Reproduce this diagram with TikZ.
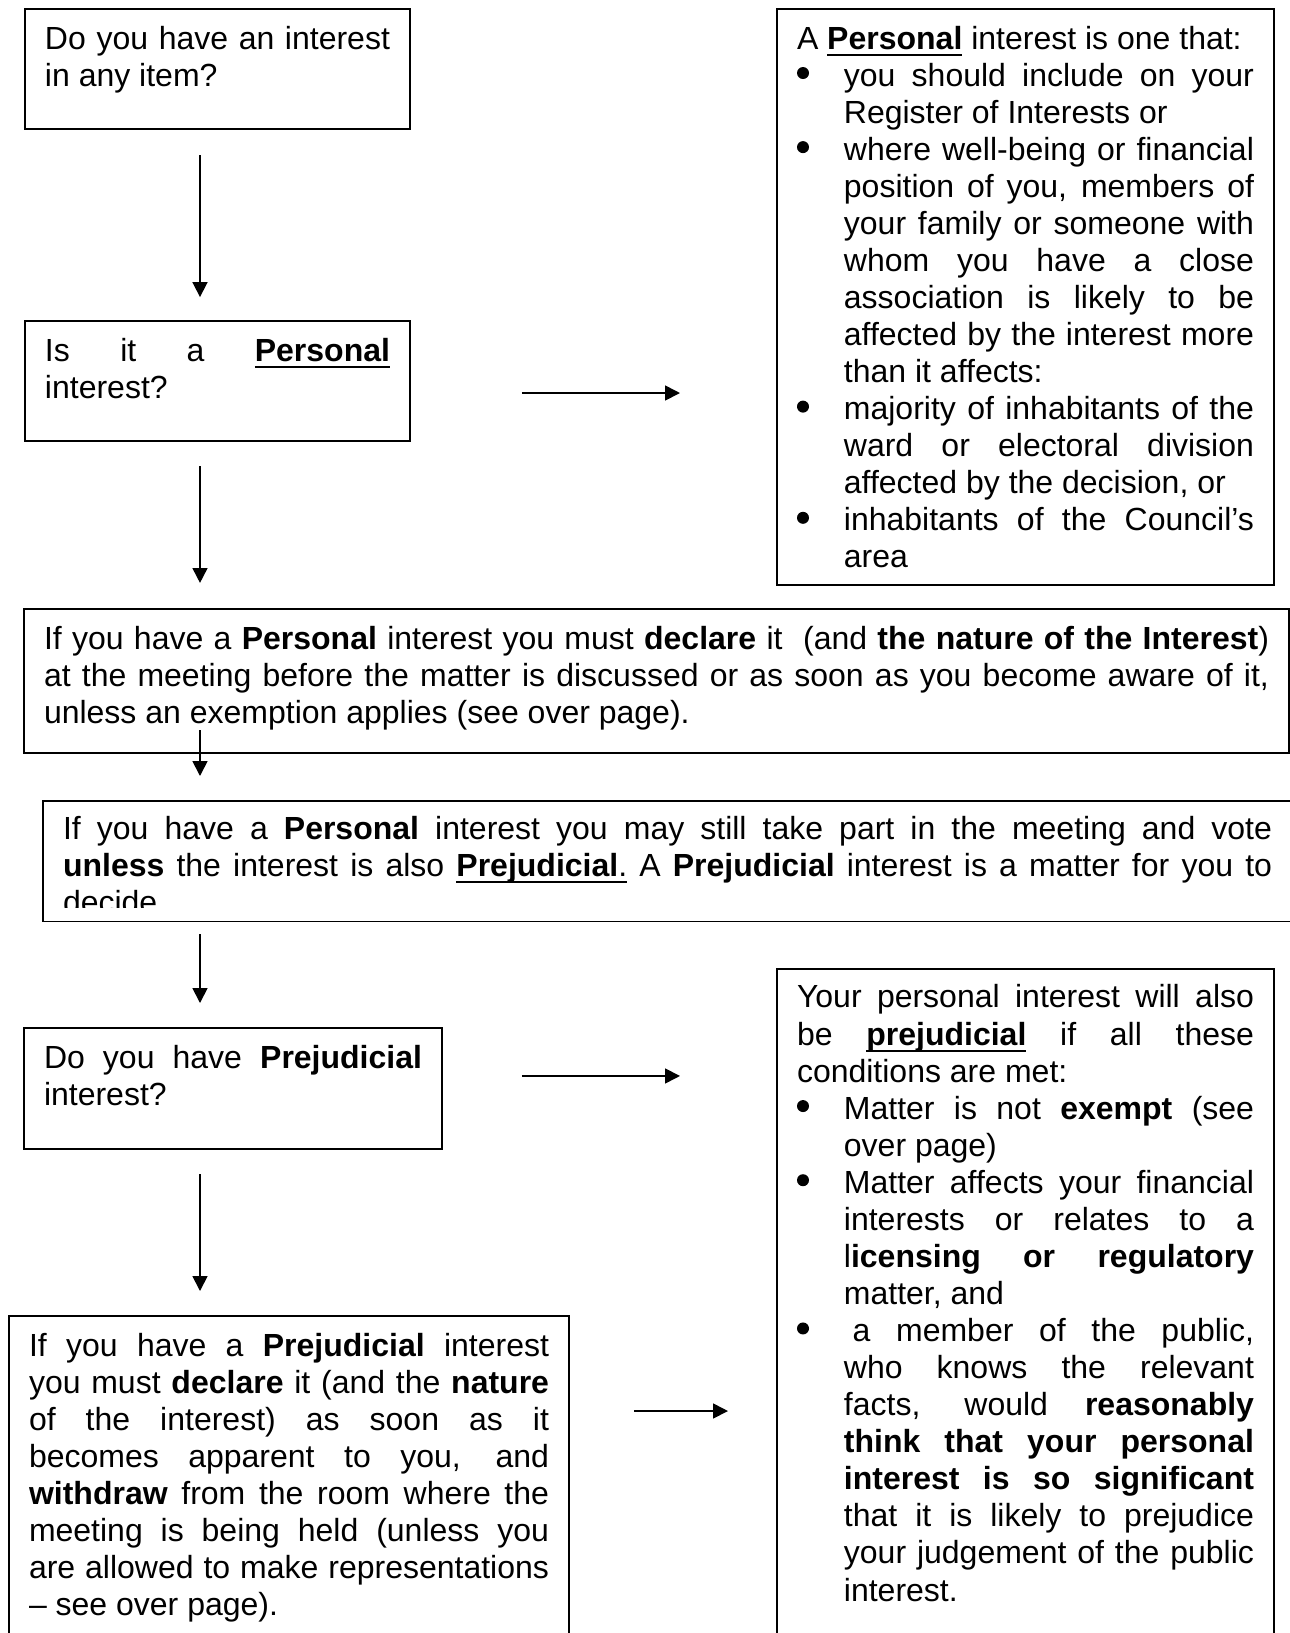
\documentclass[tikz,border=0pt]{standalone}
\usepackage{fontspec}
\setmainfont{Liberation Sans}
\usepackage{enumitem}
\usetikzlibrary{arrows.meta}

\newcommand{\boxfont}{\fontsize{12pt}{13.9pt}\selectfont\hyphenpenalty=10000\exhyphenpenalty=10000\tolerance=10000}
\newcommand{\underlined}[1]{\setbox0=\hbox{#1}\rlap{\rule[-2.55pt]{\wd0}{0.8pt}}\box0\relax}
\newcommand{\dotmark}{\tikz[baseline=0pt]\fill (3pt,4.9pt) circle (2.25pt);}
\setlist[itemize]{label=\dotmark, leftmargin=17.6pt, labelsep=0pt, labelwidth=17.6pt, align=left, topsep=0pt, partopsep=0pt, itemsep=0pt, parsep=0pt}

\begin{document}
\begin{tikzpicture}[x=0.375pt, y=-0.375pt,
    box/.style={draw, line width=0.75pt, anchor=north west, align=justify, font=\boxfont,
                inner xsep=7.5pt, inner ysep=0pt, text height=15pt},
    arrow/.style={-{Triangle[length=5.6pt, width=5.6pt]}, line width=0.65pt}]
            \path[use as bounding box] (0, 0) rectangle (1290, 1633);
            \clip (0, 0) rectangle (1290, 1633);
            \coordinate (spine) at (200, 0);
            
            % left column of questions
            \node[box, text width=129.375pt, text depth=30pt] (q_interest) at (24, 8)
                {Do you have an interest\linebreak in any item?};
            \node[box, text width=129.375pt, text depth=30pt] (q_personal) at (24, 320)
                {Is it a \underlined{\textbf{Personal}}\linebreak interest?};
            
            \node[box, text width=171.375pt, text depth=201pt] (def_personal) at (776, 8)
                {A \underlined{\textbf{Personal}} interest is one that:
                \begin{itemize}
                    \item you should include on your\linebreak Register of Interests or
                    \item where well-being or financial\linebreak position of you, members of\linebreak your family or someone with\linebreak whom you have a close\linebreak association is likely to be\linebreak affected by the interest more\linebreak than it affects:
                    \item majority of inhabitants of the\linebreak ward or electoral division\linebreak affected by the decision, or
                    \item inhabitants of the Council’s\linebreak area
                \end{itemize}};
            
            % wide boxes
            \node[box, text width=459.375pt, text depth=39pt] (declare_personal) at (23, 608)
                {If you have a \textbf{Personal} interest you must \textbf{declare} it\ \ (and \textbf{the nature of the Interest})\linebreak at the meeting before the matter is discussed or as soon as you become aware of it,\linebreak unless an exemption applies (see over page).};
            \node[box, text width=453.375pt, text height=14.25pt, text depth=30.75pt] (vote_personal) at (42, 800)
                {If you have a \textbf{Personal} interest you may still take part in the meeting and vote\linebreak \textbf{unless} the interest is also \underlined{\textbf{Prejudicial}.} A \textbf{Prejudicial} interest is a matter for you to\linebreak decide};
            \fill[white] ([xshift=0.7pt, yshift=0.5pt]vote_personal.south west) rectangle ([yshift=5.2pt]vote_personal.south east);
            
            \node[box, text width=141.75pt, text depth=30.375pt] (q_prejudicial) at (23, 1027)
                {Do you have \textbf{Prejudicial}\linebreak interest?};
            
            \node[box, text width=171.375pt, text height=14.6pt, text depth=247.9pt] (def_prejudicial) at (776, 968)
                {Your personal interest will also\linebreak be \underlined{\textbf{prejudicial}} if all these\linebreak conditions are met:
                \begin{itemize}
                    \item Matter is not \textbf{exempt} (see\linebreak over page)
                    \item Matter affects your financial\linebreak interests or relates to a\linebreak l\textbf{icensing or regulatory}\linebreak matter, and
                    \item \hspace*{3.3pt}a member of the public,\linebreak who knows the relevant\linebreak facts, would \textbf{reasonably}\linebreak \textbf{think that your personal}\linebreak \textbf{interest is so significant}\linebreak that it is likely to prejudice\linebreak your judgement of the public\linebreak interest.
                \end{itemize}};
            
            \node[box, text width=195pt, text depth=112.5pt] (declare_prejudicial) at (8, 1315)
                {If you have a \textbf{Prejudicial} interest\linebreak you must \textbf{declare} it (and the \textbf{nature}\linebreak of the interest) as soon as it\linebreak becomes apparent to you, and\linebreak \textbf{withdraw} from the room where the\linebreak meeting is being held (unless you\linebreak are allowed to make representations\linebreak – see over page).};
            
            % arrows down the left side
            \draw[arrow, shorten <=9.4pt, shorten >=8.6pt] (q_interest.south -| spine) -- (q_personal.north -| spine);
            \draw[arrow, shorten <=9pt, shorten >=9.4pt] (q_personal.south -| spine) -- (declare_personal.north -| spine);
            \draw[arrow, shorten <=-9pt, shorten >=9pt] (declare_personal.south -| spine) -- (vote_personal.north -| spine);
            \draw[arrow, shorten <=4.5pt, shorten >=9pt] (vote_personal.south -| spine) -- (q_prejudicial.north -| spine);
            \draw[arrow, shorten <=9pt, shorten >=9pt] (q_prejudicial.south -| spine) -- (declare_prejudicial.north -| spine);
            
            % arrows across to the definitions
            \draw[arrow, shorten <=41.6pt, shorten >=36pt] ([yshift=-4.5pt]q_personal.east) -- ([yshift=-4.5pt]q_personal.east -| def_personal.west);
            \draw[arrow, shorten <=29.6pt, shorten >=36pt] ([yshift=4.7pt]q_prejudicial.east) -- ([yshift=4.7pt]q_prejudicial.east -| def_prejudicial.west);
            \draw[arrow, shorten <=24pt, shorten >=18pt] ([yshift=-36pt]declare_prejudicial.north east) -- ([yshift=-36pt]declare_prejudicial.north east -| def_prejudicial.west);
        \end{tikzpicture}
\end{document}
